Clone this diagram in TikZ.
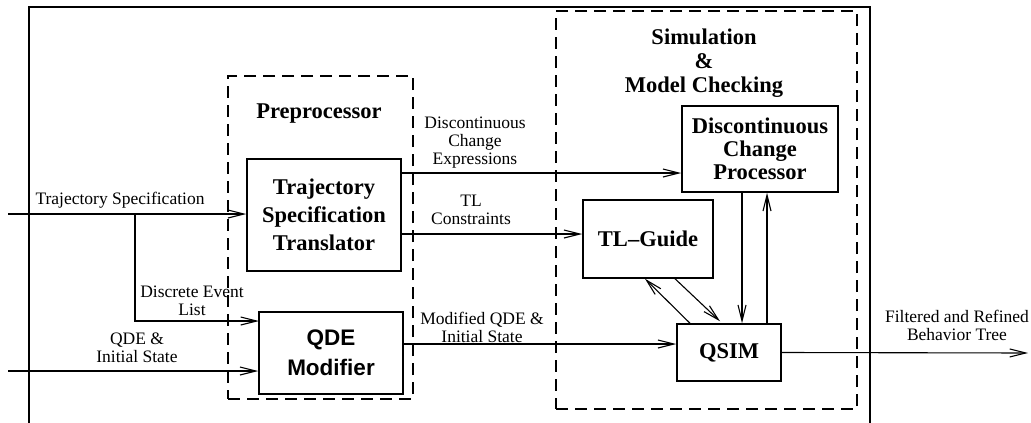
\documentclass[tikz,border=0pt]{standalone}
\usepackage{fontspec}
\setmainfont{Liberation Serif}
\newfontfamily\hsans{Liberation Sans}
\usetikzlibrary{arrows.meta}

\begin{document}
\begin{tikzpicture}[x=1pt,y=-1pt,
  box/.style={draw,line width=1.5pt,align=center,inner sep=0pt},
  bold/.style={font=\fontsize{22.5}{#1}\selectfont\bfseries},
  grp/.style={draw,line width=1.3pt,dash pattern=on 12pt off 7pt,inner sep=0pt},
  lbl/.style={align=center,inner sep=0pt,font=\fontsize{17.5}{18}\selectfont},
  flow/.style={line width=1.1pt,-{Straight Barb[length=16pt,width=8pt,line width=1.1pt]}},
  frame/.style={line width=1.4pt},
]
\useasboundingbox (0,0) rectangle (1031,423);

% outer frame, open at the bottom
\draw[frame] (29,423) -- (29,7) -- (870,7) -- (870,423);

% dashed groups
\node[grp,minimum width=185pt,minimum height=323pt] (pre) at (320.5,237.5) {};
\node[grp,minimum width=301pt,minimum height=398pt] (sim) at (706.5,210) {};
\node[bold=27,inner sep=0pt] (pretitle) at (319,114) {Preprocessor};
\node[bold=24,align=center,inner sep=0pt] (simtitle) at (704,63) {Simulation\\\&\\Model Checking};

% blocks
\node[box,bold=28,minimum width=154pt,minimum height=112pt] (tst) at (324,215) {Trajectory\\Specification\\Translator};
\node[box,font=\fontsize{22.5}{30}\selectfont\hsans\bfseries,minimum width=144pt,minimum height=82pt] (qde) at (331,353) {QDE\\Modifier};
\node[box,bold=23,minimum width=156pt,minimum height=86pt] (dcp) at (760,149) {Discontinuous\\Change\\Processor};
\node[box,bold=27,minimum width=130pt,minimum height=78pt] (tlg) at (648,239) {TL--Guide};
\node[box,bold=27,minimum width=104pt,minimum height=57pt] (qsim) at (729,352.5) {QSIM};

% free ends and branch points
\coordinate (tsIn) at (8,214);
\coordinate (br) at (135,214);
\coordinate (evIn) at (259,321);
\coordinate (qdeIn) at (8,371);
\coordinate (dceY) at (0,173);
\coordinate (tlcY) at (0,234);
\coordinate (mqY) at (0,344);
\coordinate (out) at (1028,353);

% inputs
\draw[flow] (tsIn) -- (tst.west |- tsIn);
\draw[flow] (br) |- (evIn);
\draw[flow] (qdeIn) -- (qde.west |- qdeIn);

% preprocessor to simulation
\draw[flow] (tst.east |- dceY) -- (dcp.west |- dceY);
\draw[flow] (tst.east |- tlcY) -- (tlg.west |- tlcY);
\draw[flow] (qde.east |- mqY) -- (qsim.west |- mqY);

% interactions inside the simulation block
\draw[flow] ([xshift=-39pt]qsim.north) -- ([xshift=-3pt]tlg.south);
\draw[flow] ([xshift=27pt]tlg.south) -- ([xshift=-9pt,yshift=2pt]qsim.north);
\draw[flow] ([xshift=-18pt]dcp.south) -- ([xshift=-18pt]dcp.south |- qsim.north);
\draw[flow] ([xshift=7pt]dcp.south |- qsim.north) -- ([xshift=7pt]dcp.south);

% output
\draw[flow] (qsim.east) -- (out);

% labels
\node[lbl] (lTs) at (120,200) {Trajectory Specification};
\node[lbl] (lEv) at (192,301) {Discrete Event\\List};
\node[lbl] (lQde) at (137,348) {QDE \&\\Initial State};
\node[lbl] (lDce) at (475,143) {Discontinuous\\Change\\Expressions};
\node[lbl] (lTlc) at (471,210) {TL\\Constraints};
\node[lbl] (lMq) at (482,327) {Modified QDE \&\\Initial State};
\node[lbl] (lOut) at (957,325) {Filtered and Refined\\Behavior Tree};
\end{tikzpicture}
\end{document}
